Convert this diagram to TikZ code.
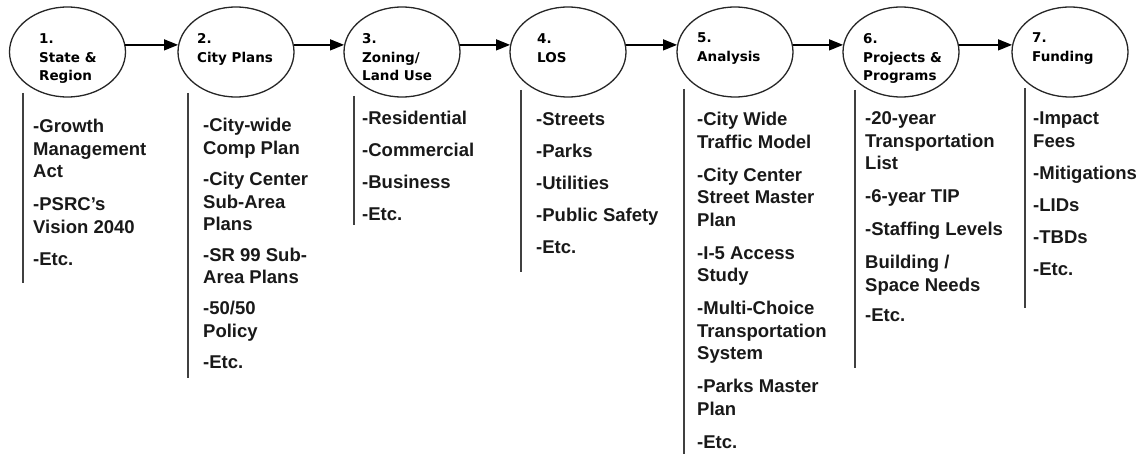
\documentclass[tikz,border=0pt]{standalone}
\usepackage{fontspec}
\setmainfont{Liberation Sans}
\newfontfamily\labfont{DejaVu Sans}
\usetikzlibrary{shapes.geometric,arrows.meta}
\newcommand{\colstack}[1]{\begin{tabular}[t]{@{}l@{}}#1\end{tabular}}
\begin{document}
\begin{tikzpicture}[x=1pt,y=-1pt,
  stage/.style={draw=black!85, line width=1.3pt, ellipse, minimum width=116pt, minimum height=90pt, inner sep=0pt},
  flow/.style={-{Triangle[length=14pt,width=11pt]}, line width=1.3pt, draw=black},
  rule/.style={draw=black!75, line width=1.8pt},
  lab/.style={font=\labfont\bfseries\fontsize{13.5}{18.5}\selectfont, anchor=base west, inner sep=0pt},
  list/.style={font=\bfseries\fontsize{18.5}{22.5}\selectfont, anchor=base west, inner sep=0pt, text=black!90}]
\fill[white] (0,0) rectangle (1143,454);
\useasboundingbox (0,0) rectangle (1143,454);

% stages
\node[stage] (e1) at (67.5,52) {};
\node[stage] (e2) at (236,52) {};
\node[stage] (e3) at (402,52) {};
\node[stage] (e4) at (568,52) {};
\node[stage] (e5) at (735,52) {};
\node[stage] (e6) at (901,52) {};
\node[stage] (e7) at (1070,52) {};

% stage labels
\node[lab] (l1) at (39,44) {\colstack{1.\\State \&\\Region}};
\node[lab] (l2) at (197,44) {\colstack{2.\\City Plans}};
\node[lab] (l3) at (362,44) {\colstack{3.\\Zoning/\\Land Use}};
\node[lab] (l4) at (537,44) {\colstack{4.\\LOS}};
\node[lab] (l5) at (697,43) {\colstack{5.\\Analysis}};
\node[lab] (l6) at (863,44) {\colstack{6.\\Projects \&\\Programs}};
\node[lab] (l7) at (1032,43) {\colstack{7.\\Funding}};

% arrows
\draw[flow] (e1.7) -- (e2.173);
\draw[flow] (e2.7) -- (e3.173);
\draw[flow] (e3.7) -- (e4.173);
\draw[flow] (e4.7) -- (e5.173);
\draw[flow] (e5.7) -- (e6.173);
\draw[flow] (e6.7) -- (e7.173);

% vertical rules
\draw[rule] (23,93) -- (23,283);
\draw[rule] (188,93) -- (188,378);
\draw[rule] (354,96) -- (354,225);
\draw[rule] (521,90) -- (521,272);
\draw[rule] (684,89) -- (684,454);
\draw[rule] (855,90) -- (855,368);
\draw[rule] (1025,88) -- (1025,308);

% lists
\node[list] (c1) at (33,133) {\colstack{-Growth\\Management\\Act\\[10.5pt]-PSRC's\\Vision 2040\\[10pt]-Etc.}};
\node[list] (c2) at (203,132) {\colstack{-City-wide\\Comp Plan\\[9pt]-City Center\\Sub-Area\\Plans\\[8pt]-SR 99 Sub-\\Area Plans\\[8.5pt]-50/50\\Policy\\[8.5pt]-Etc.}};
\node[list] (c3) at (362,125) {\colstack{-Residential\\[9.3pt]-Commercial\\[9.3pt]-Business\\[9.3pt]-Etc.}};
\node[list] (c4) at (536,126) {\colstack{-Streets\\[9.5pt]-Parks\\[9.5pt]-Utilities\\[9.5pt]-Public Safety\\[9.5pt]-Etc.}};
\node[list] (c5) at (697,126) {\colstack{-City Wide\\Traffic Model\\[10.5pt]-City Center\\Street Master\\Plan\\[10.5pt]-I-5 Access\\Study\\[10.5pt]-Multi-Choice\\Transportation\\System\\[10.5pt]-Parks Master\\Plan\\[10.5pt]-Etc.}};
\node[list] (c6) at (865,125) {\colstack{-20-year\\Transportation\\List\\[10.5pt]-6-year TIP\\[10.5pt]-Staffing Levels\\[10.5pt]Building /\\Space Needs\\[8pt]-Etc.}};
\node[list] (c7) at (1033,125) {\colstack{-Impact\\Fees\\[9.5pt]-Mitigations\\[9.5pt]-LIDs\\[9.5pt]-TBDs\\[9.5pt]-Etc.}};
\end{tikzpicture}
\end{document}
